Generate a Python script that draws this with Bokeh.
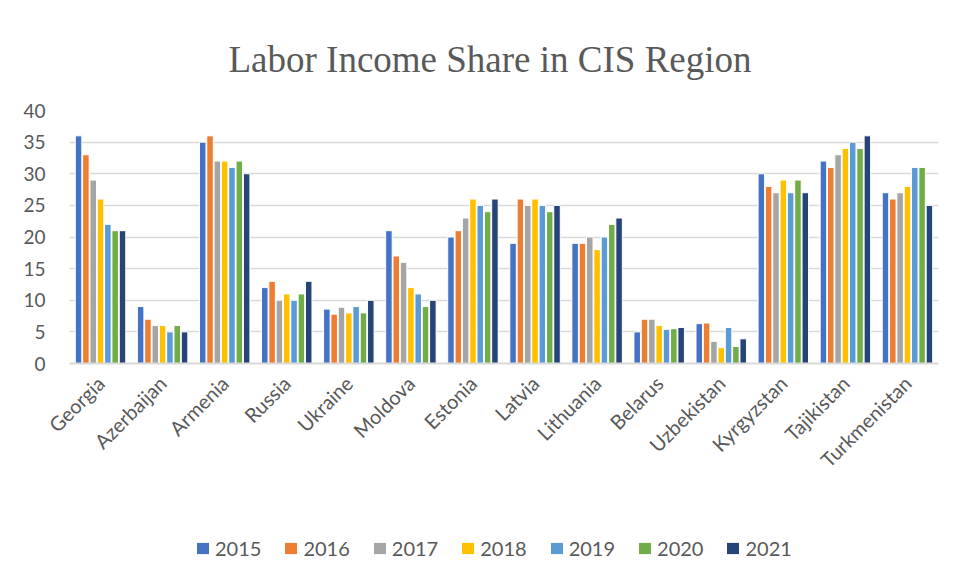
from bokeh.plotting import figure
from bokeh.models import ColumnDataSource, FactorRange, Legend, LegendItem
from bokeh.layouts import column
from bokeh.transform import dodge
from bokeh.embed import file_html
from bokeh.resources import INLINE
import math

countries = ["Georgia", "Azerbaijan", "Armenia", "Russia", "Ukraine", "Moldova",
             "Estonia", "Latvia", "Lithuania", "Belarus", "Uzbekistan",
             "Kyrgyzstan", "Tajikistan", "Turkmenistan"]
years = ["2015", "2016", "2017", "2018", "2019", "2020", "2021"]

v2015 = [36, 9, 35, 12, 8.6, 21, 20, 19, 19, 5, 6.3, 30, 32, 27]
v2016 = [33, 7, 36, 13, 7.8, 17, 21, 26, 19, 7, 6.4, 28, 31, 26]
v2017 = [29, 6, 32, 10, 8.9, 16, 23, 25, 20, 7, 3.5, 27, 33, 27]
v2018 = [26, 6, 32, 11, 8.0, 12, 26, 26, 18, 6, 2.5, 29, 34, 28]
v2019 = [22, 5, 31, 10, 9.0, 11, 25, 25, 20, 5.4, 5.7, 27, 35, 31]
v2020 = [21, 6, 32, 11, 8.0, 9, 24, 24, 22, 5.5, 2.7, 29, 34, 31]
v2021 = [21, 5, 30, 13, 10, 10, 26, 25, 23, 5.7, 3.9, 27, 36, 25]

colors = ["#4472C4", "#ED7D31", "#A5A5A5", "#FFC000", "#5B9BD5", "#70AD47", "#264478"]
series = [v2015, v2016, v2017, v2018, v2019, v2020, v2021]

data = {"country": countries}
for y, s in zip(years, series):
    data["y" + y] = s
source = ColumnDataSource(data)

p = figure(x_range=FactorRange(*countries, range_padding=0), y_range=(0, 40),
           frame_width=869, frame_height=253,
           min_border_left=69, min_border_right=17, min_border_top=110, min_border_bottom=157,
           output_backend="svg", toolbar_location=None,
           title="Labor Income Share in CIS Region")

p.title.text_font = "Liberation Serif"
p.title.text_font_size = "37px"
p.title.text_font_style = "normal"
p.title.text_color = "#595959"
p.title.align = "left"
p.title.offset = 159
p.title.standoff = 62

slot = 0.118
for i, (y, c) in enumerate(zip(years, colors)):
    p.vbar(x=dodge("country", (i - 3) * slot, range=p.x_range), top="y" + y,
           width=0.105, source=source, fill_color=c, line_color="white", line_width=1)

p.outline_line_color = None
p.xgrid.grid_line_color = None
p.ygrid.grid_line_color = "#D9D9D9"
p.ygrid.grid_line_width = 1.5
p.yaxis.ticker = [0, 5, 10, 15, 20, 25, 30, 35, 40]
p.yaxis.axis_line_color = None
p.yaxis.major_tick_line_color = None
p.yaxis.minor_tick_line_color = None
p.yaxis.major_label_standoff = 18
p.yaxis.major_label_text_font = "Lato"
p.yaxis.major_label_text_font_size = "19px"
p.yaxis.major_label_text_color = "#595959"

p.xaxis.axis_line_color = "#D9D9D9"
p.xaxis.axis_line_width = 2
p.xaxis.major_tick_line_color = None
p.xaxis.major_label_orientation = math.pi / 4
p.xaxis.major_label_standoff = 10
p.xaxis.major_label_text_font = "Lato"
p.xaxis.major_label_text_font_size = "20px"
p.xaxis.major_label_text_color = "#595959"

# legend panel below the chart
lg = figure(width=957, height=56, x_range=(0, 1), y_range=(0, 1),
            min_border_left=0, min_border_right=0, min_border_top=0, min_border_bottom=0,
            x_axis_type=None, y_axis_type=None,
            output_backend="svg", toolbar_location=None)
lg.outline_line_color = None
lg.xgrid.grid_line_color = None
lg.ygrid.grid_line_color = None
items = []
for y, c in zip(years, colors):
    r = lg.vbar(x=[0.5], top=[0], bottom=[0], width=0.1, fill_color=c, line_color=None)
    items.append(LegendItem(label=y, renderers=[r]))
legend = Legend(items=items, orientation="horizontal", location=(126, 16),
                border_line_color=None, background_fill_alpha=0,
                label_text_font="Lato", label_text_font_size="20px", label_text_color="#595959",
                glyph_width=15, glyph_height=14, label_standoff=5, spacing=22, padding=4, margin=0)
lg.add_layout(legend, "center")

layout = column(p, lg, spacing=0)
open("out.html", "w").write(file_html(layout, INLINE))
